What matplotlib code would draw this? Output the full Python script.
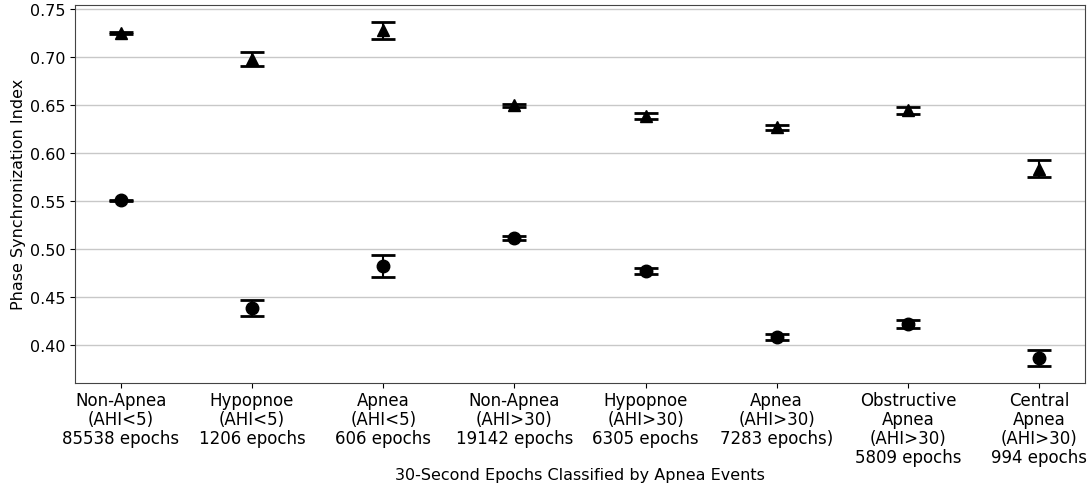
import numpy as np
import matplotlib
matplotlib.use("Agg")
import matplotlib.pyplot as plt

# categories (x tick labels)
categories = [
    "Non-Apnea\n(AHI<5)\n85538 epochs",
    "Hypopnoe\n(AHI<5)\n1206 epochs",
    "Apnea\n(AHI<5)\n606 epochs",
    "Non-Apnea\n(AHI>30)\n19142 epochs",
    "Hypopnoe\n(AHI>30)\n6305 epochs",
    "Apnea\n(AHI>30)\n7283 epochs)",
    "Obstructive\nApnea\n(AHI>30)\n5809 epochs",
    "Central\nApnea\n(AHI>30)\n994 epochs",
]

# upper series (triangles)
tri_mean = [0.7250, 0.6975, 0.7277, 0.6498, 0.6387, 0.6268, 0.6446, 0.5837]
tri_err = [0.0012, 0.0073, 0.0090, 0.0014, 0.0028, 0.0028, 0.0038, 0.0090]

# lower series (circles)
circ_mean = [0.5506, 0.4386, 0.4824, 0.5117, 0.4773, 0.4083, 0.4219, 0.3867]
circ_err = [0.0010, 0.0087, 0.0115, 0.0020, 0.0028, 0.0028, 0.0038, 0.0083]

plt.rcParams['font.family'] = 'DejaVu Sans'
plt.rcParams['font.size'] = 11.5

fig, ax = plt.subplots(figsize=(10.91, 4.89), dpi=100)
fig.subplots_adjust(left=0.0687, right=0.9945, top=0.9885, bottom=0.2147)

x = np.arange(len(categories))
ax.errorbar(x, tri_mean, yerr=tri_err, fmt='^', color='black', ms=9,
            capsize=8.5, capthick=2, elinewidth=1.5, zorder=3)
ax.errorbar(x, circ_mean, yerr=circ_err, fmt='o', color='black', ms=9,
            capsize=8.5, capthick=2, elinewidth=1.5, zorder=3)

ax.set_xticks(x)
ax.set_xticklabels(categories, fontsize=12, linespacing=1.08)
ax.tick_params(axis='x', pad=2)
ax.set_xlabel("30-Second Epochs Classified by Apnea Events", labelpad=1)
ax.set_ylabel("Phase Synchronization Index", labelpad=3)
ax.yaxis.grid(True, color='#c8c8c8', linewidth=1)
ax.set_axisbelow(True)
for s in ax.spines.values():
    s.set_color('#444444')

fig.savefig("out.png", dpi=100)
